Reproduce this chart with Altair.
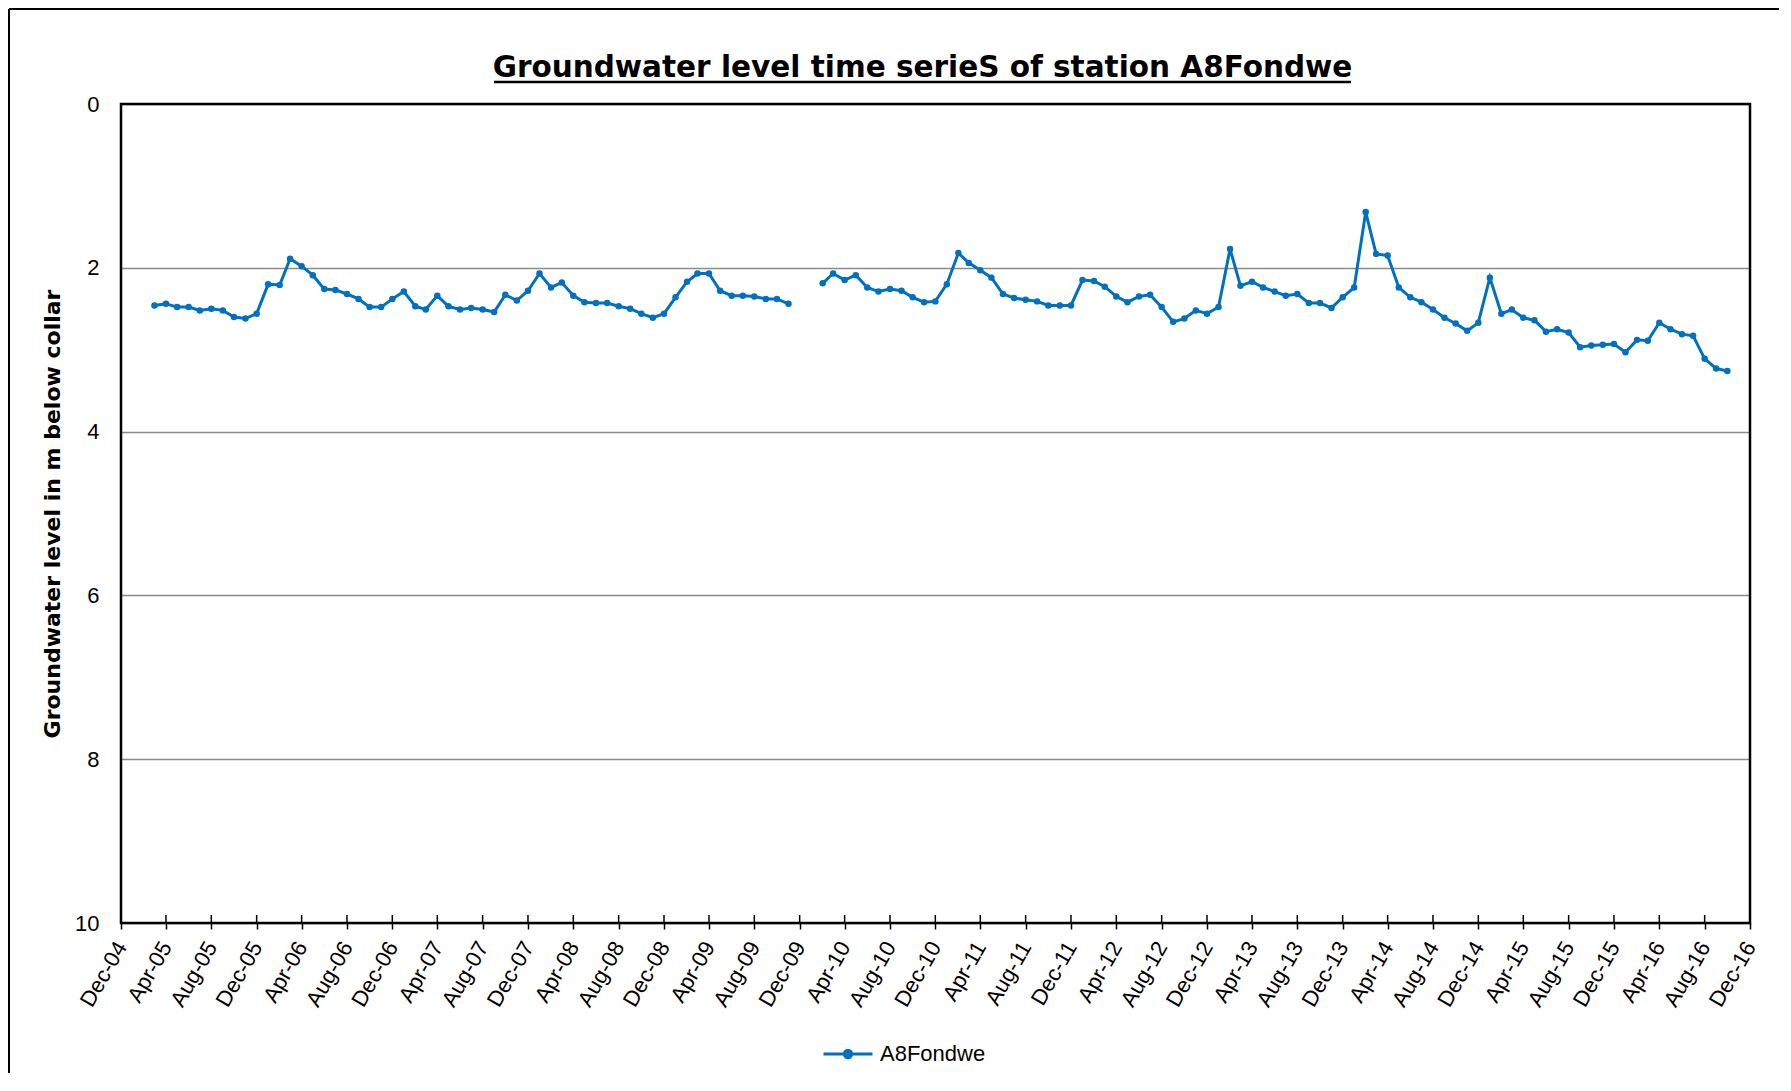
import altair as alt
import pandas as pd
from datetime import datetime, timezone

# Groundwater level (m below collar), monthly; None = no reading
lvl_2005 = [2.46, 2.44, 2.48, 2.48, 2.52, 2.50, 2.52, 2.60, 2.62, 2.56]  # Mar-Dec
lvl_2006 = [2.20, 2.21, 1.89, 1.98, 2.09, 2.26, 2.27, 2.32, 2.38, 2.48, 2.48, 2.38]
lvl_2007 = [2.29, 2.47, 2.51, 2.34, 2.47, 2.51, 2.49, 2.51, 2.54, 2.33, 2.40, 2.28]
lvl_2008 = [2.07, 2.24, 2.18, 2.34, 2.42, 2.43, 2.43, 2.47, 2.50, 2.56, 2.61, 2.56]
lvl_2009 = [2.36, 2.17, 2.07, 2.07, 2.28, 2.34, 2.34, 2.35, 2.38, 2.38, 2.44, None]
lvl_2010 = [None, 2.19, 2.07, 2.15, 2.09, 2.24, 2.29, 2.26, 2.28, 2.36, 2.42, 2.41]
lvl_2011 = [2.20, 1.82, 1.94, 2.03, 2.12, 2.32, 2.37, 2.39, 2.41, 2.46, 2.46, 2.46]
lvl_2012 = [2.15, 2.16, 2.23, 2.35, 2.42, 2.35, 2.33, 2.48, 2.66, 2.62, 2.52, 2.56]
lvl_2013 = [2.48, 1.77, 2.22, 2.17, 2.24, 2.29, 2.34, 2.32, 2.43, 2.43, 2.49, 2.36]
lvl_2014 = [2.24, 1.32, 1.83, 1.85, 2.24, 2.36, 2.42, 2.51, 2.61, 2.68, 2.77, 2.67]
lvl_2015 = [2.12, 2.56, 2.51, 2.61, 2.64, 2.78, 2.75, 2.79, 2.97, 2.95, 2.94, 2.93]
lvl_2016 = [3.03, 2.88, 2.89, 2.67, 2.75, 2.81, 2.83, 3.11, 3.23, 3.26]  # Jan-Oct

years = [
    (2005, 3, lvl_2005), (2006, 1, lvl_2006), (2007, 1, lvl_2007), (2008, 1, lvl_2008),
    (2009, 1, lvl_2009), (2010, 1, lvl_2010), (2011, 1, lvl_2011), (2012, 1, lvl_2012),
    (2013, 1, lvl_2013), (2014, 1, lvl_2014), (2015, 1, lvl_2015), (2016, 1, lvl_2016),
]
series_name = "A8Fondwe"
title_text = "Groundwater level time serieS of station A8Fondwe"
y_title = "Groundwater level in m below collar"
line_color = "#0070C0"

rows = []
seg = 0
for yr, m0, vals in years:
    for i, v in enumerate(vals):
        if v is None:
            seg += 1 if (rows and rows[-1]["seg"] == seg) else 0
            continue
        rows.append({"date": f"{yr}-{m0 + i:02d}-01", "level": v, "seg": seg, "series": series_name})
df = pd.DataFrame(rows)


def ms(y, m):
    return int(datetime(y, m, 1, tzinfo=timezone.utc).timestamp() * 1000)


all_months = []
y, m = 2004, 12
while (y, m) <= (2016, 12):
    all_months.append(ms(y, m))
    m += 1
    if m > 12:
        m, y = 1, y + 1
major_ticks = pd.DataFrame({"t": all_months[::4]})

W, H = 1629, 819
FONT = "Liberation Sans"

xscale = alt.Scale(type="utc", domain=[ms(2004, 12), ms(2016, 12)], nice=False)
yscale = alt.Scale(domain=[0, 10], reverse=True, nice=False, zero=False)

x_axis = alt.Axis(
    values=all_months,
    labelExpr="utcmonth(datum.value) % 4 == 3 ? utcFormat(datum.value, '%b-%y') : ''",
    labelAngle=300, labelAlign="right", labelBaseline="middle",
    labelFont=FONT, labelFontSize=22, labelColor="black",
    labelOverlap=False, labelFlush=False, labelPadding=14,
    tickSize=6, tickWidth=1.5, tickColor="black",
    domain=False, grid=False, title=None,
)
y_axis = alt.Axis(
    values=[0, 2, 4, 6, 8, 10],
    labelFont=FONT, labelFontSize=22, labelColor="black", labelPadding=22,
    ticks=False, tickSize=0, domain=False,
    grid=True, gridColor="#8a8a8a", gridWidth=1.5,
    title=y_title,
    titleFont="DejaVu Sans", titleFontSize=22, titleFontWeight="bold", titleColor="black",
    titleAngle=270, titleX=-69, titleY=H / 2, titleAlign="center", titleBaseline="middle",
)

legend = alt.Legend(
    title=None, orient="none", legendX=701, legendY=924, padding=0,
    symbolType="M-1,0H1M-0.15,0A0.15,0.15 0 1,0 0.15,0A0.15,0.15 0 1,0 -0.15,0Z",
    symbolSize=2401, symbolStrokeWidth=3, symbolFillColor=line_color, symbolStrokeColor=line_color,
    labelFont=FONT, labelFontSize=22, labelColor="black", labelOffset=6,
)
color = alt.Color("series:N", scale=alt.Scale(range=[line_color]), legend=legend)

base = alt.Chart(df).encode(
    x=alt.X("date:T", scale=xscale, axis=x_axis),
    y=alt.Y("level:Q", scale=yscale, axis=y_axis),
    color=color,
)
line = base.mark_line(strokeWidth=3).encode(detail="seg:N")
pts = base.mark_circle(size=42, opacity=1)

ticks = alt.Chart(major_ticks).mark_rule(color="black", strokeWidth=1.5).encode(
    x=alt.X("t:T", scale=xscale),
    y=alt.value(H), y2=alt.value(H - 8),
)

one = pd.DataFrame({"a": [0]})
plot_frame = alt.Chart(one).mark_rect(fill="transparent", stroke="black", strokeWidth=2.5).encode(
    x=alt.value(0), x2=alt.value(W), y=alt.value(0), y2=alt.value(H)
)
title_mark = alt.Chart(one).mark_text(
    text=title_text, font="DejaVu Sans", fontSize=29.5, fontWeight="bold", color="black",
    align="center", baseline="alphabetic",
).encode(x=alt.value(801.5), y=alt.value(-26.7))
underline = alt.Chart(one).mark_rule(color="black", strokeWidth=2.5).encode(
    x=alt.value(373), x2=alt.value(1230), y=alt.value(-22)
)
frame_top = alt.Chart(one).mark_rule(color="black", strokeWidth=2).encode(
    x=alt.value(-112), x2=alt.value(1658), y=alt.value(-95)
)
frame_left = alt.Chart(one).mark_rule(color="black", strokeWidth=2).encode(
    x=alt.value(-112), y=alt.value(-95), y2=alt.value(969)
)

chart = alt.layer(
    line, pts, ticks, plot_frame, title_mark, underline, frame_top, frame_left
).properties(
    width=W, height=H,
    autosize=alt.AutoSizeParams(type="none"),
    padding={"left": 113, "top": 96, "right": 30, "bottom": 150},
).configure_view(stroke=None).configure(background="white")

chart.save("out.html", embed_options={"renderer": "svg", "actions": False})
